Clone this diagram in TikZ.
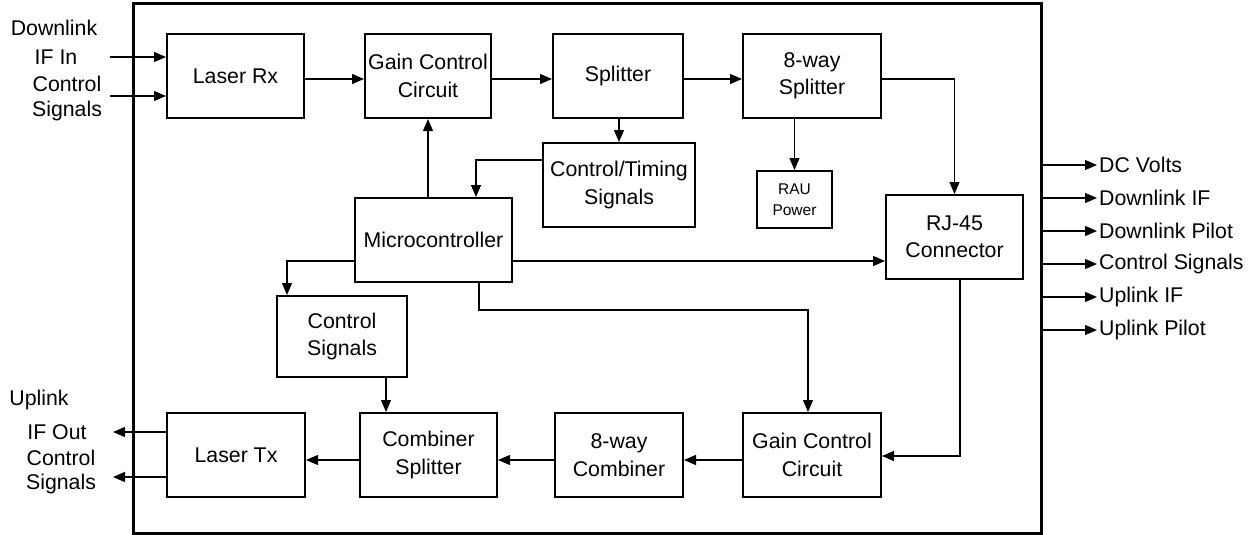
\documentclass[tikz,border=0pt]{standalone}
\usepackage{fontspec}
\setmainfont{Liberation Sans}
\usetikzlibrary{arrows.meta}
\begin{document}
\begin{tikzpicture}[x=1pt,y=-1pt,
  every node/.style={font=\fontsize{21.3}{27.5}\selectfont},
  blk/.style={draw, line width=2pt, align=center, inner sep=2pt},
  lbl/.style={inner sep=0pt, align=center},
  arr/.style={line width=1.2pt, -{Triangle[length=12pt,width=10pt]}},
  wire/.style={line width=1.2pt}]
\useasboundingbox (0,0) rectangle (1258,535);

% enclosure
\draw[line width=3pt] (133,4) rectangle (1041,533);

% downlink path
\node[blk, minimum width=137pt, minimum height=84pt] (lrx)  at (235.5,76) {Laser Rx};
\node[blk, minimum width=126pt, minimum height=84pt] (gcc1) at (428,76)   {Gain Control\\Circuit};
\node[blk, minimum width=130pt, minimum height=84pt] (spl)  at (618,76)   {Splitter};
\node[blk, minimum width=138pt, minimum height=84pt] (spl8) at (812,76)   {8-way\\Splitter};
\node[blk, minimum width=152pt, minimum height=84pt] (cts)  at (619,185)  {Control/Timing\\Signals};
\node[blk, minimum width=75pt,  minimum height=57pt, font=\fontsize{15.5}{21}\selectfont] (rau) at (794.5,199.5) {RAU\\Power};
\node[blk, minimum width=157pt, minimum height=84pt] (mcu)  at (433.5,240) {Microcontroller};
\node[blk, minimum width=137pt, minimum height=84pt] (rj)   at (954.5,237) {RJ-45\\Connector};
\node[blk, minimum width=130pt, minimum height=81pt] (csig) at (342,336.5) {Control\\Signals};

% uplink path
\node[blk, minimum width=138pt, minimum height=84pt] (ltx)  at (236,455)   {Laser Tx};
\node[blk, minimum width=137pt, minimum height=84pt] (cmb)  at (428.5,455) {Combiner\\Splitter};
\node[blk, minimum width=128pt, minimum height=84pt] (cmb8) at (619,455)   {8-way\\Combiner};
\node[blk, minimum width=138pt, minimum height=84pt] (gcc2) at (812,455)   {Gain Control\\Circuit};

% external inputs and outputs on the left
\coordinate (in1) at (110,57);
\coordinate (in2) at (110,96);
\coordinate (out1) at (113,432);
\coordinate (out2) at (113,477);
\node[lbl] (tdl)  at (54,28)  {Downlink};
\node[lbl] (tifi) at (56,57)  {IF In};
\node[lbl] (tc1)  at (67,84)  {Control};
\node[lbl] (ts1)  at (67,111) {Signals};
\node[lbl] (tul)  at (39,400) {Uplink};
\node[lbl] (tifo) at (57,432) {IF Out};
\node[lbl] (tc2)  at (61,458) {Control};
\node[lbl] (ts2)  at (61,484) {Signals};

\draw[arr] (in1) -- (in1 -| lrx.west);
\draw[arr] (in2) -- (in2 -| lrx.west);
\draw[arr] (out1 -| ltx.west) -- (out1);
\draw[arr] (out2 -| ltx.west) -- (out2);

% top row
\coordinate (r1) at (0,79);
\draw[arr] (r1 -| lrx.east) -- (r1 -| gcc1.west);
\draw[arr] (r1 -| gcc1.east) -- (r1 -| spl.west);
\draw[arr] (r1 -| spl.east) -- (r1 -| spl8.west);
\draw[arr] (r1 -| spl8.east) -| (rj.north);
\draw[arr] (rau.north |- spl8.south) -- (rau.north);
\draw[arr] (cts.north |- spl.south) -- (cts.north);

% microcontroller links
\coordinate (c1) at (476,160);
\draw[arr] (cts.west |- c1) -| (c1 |- mcu.north);
\draw[arr] (gcc1.south |- mcu.north) -- (gcc1.south);
\coordinate (c2) at (287,261);
\draw[arr] (mcu.west |- c2) -| (c2 |- csig.north);
\draw[arr] (mcu.east |- c2) -- (rj.west |- c2);
\coordinate (c3) at (479,310);
\coordinate (c4) at (808,310);
\draw[arr] (c3 |- mcu.south) -- (c3) -- (c4) -- (c4 |- gcc2.north);
\coordinate (c5) at (960,456);
\draw[arr] (c5 |- rj.south) -- (c5) -- (c5 -| gcc2.east);
\coordinate (c6) at (386,0);
\draw[arr] (c6 |- csig.south) -- (c6 |- cmb.north);

% bottom row
\coordinate (r2) at (0,460);
\draw[arr] (r2 -| gcc2.west) -- (r2 -| cmb8.east);
\draw[arr] (r2 -| cmb8.west) -- (r2 -| cmb.east);
\draw[arr] (r2 -| cmb.west) -- (r2 -| ltx.east);

% RJ-45 signal outputs on the right
\foreach \name/\txt [count=\i from 0] in {o1/DC Volts, o2/Downlink IF, o3/Downlink Pilot, o4/Control Signals, o5/Uplink IF, o6/Uplink Pilot}{
  \coordinate (\name) at (1097,165+33*\i);
  \draw[arr] (1041,165+33*\i) -- (\name);
  \node[lbl, anchor=west] at ([xshift=2pt]\name) {\txt};
}
\end{tikzpicture}
\end{document}
